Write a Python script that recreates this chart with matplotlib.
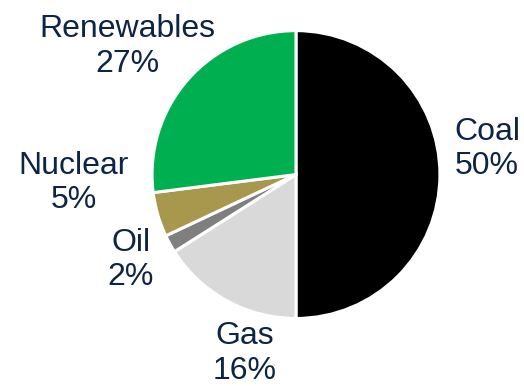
import matplotlib.pyplot as plt
import numpy as np

plt.rcParams["font.family"] = ["Liberation Sans", "DejaVu Sans"]

SOURCES = ["Coal", "Gas", "Oil", "Nuclear", "Renewables"]
SHARES = [50, 16, 2, 5, 27]
COLORS = ["#000000", "#d9d9d9", "#7f7f7f", "#a8984e", "#00b050"]
TEXT_COLOR = "#0c2545"

# label centres, in units of the pie radius
LABEL_POS = [(1.34, 0.18), (-0.36, -1.255), (-1.16, -0.60), (-1.56, -0.06), (-1.18, 0.90)]

fig = plt.figure(figsize=(5.24, 3.86), dpi=100)
ax = fig.add_axes([0, 0, 1, 1])

wedges, _ = ax.pie(
    SHARES,
    colors=COLORS,
    startangle=90,
    counterclock=False,
    radius=1.01,
    wedgeprops=dict(edgecolor="white", linewidth=2.2),
)

for name, share, (x, y) in zip(SOURCES, SHARES, LABEL_POS):
    ax.text(x, y, f"{name}\n{share}%", ha="center", va="center",
            fontsize=23, color=TEXT_COLOR, linespacing=1.2)

ax.set_xlim(-2.077, 1.600)
ax.set_ylim(-1.484, 1.225)
ax.set_aspect("auto")
ax.axis("off")

fig.savefig("out.png", dpi=100)
